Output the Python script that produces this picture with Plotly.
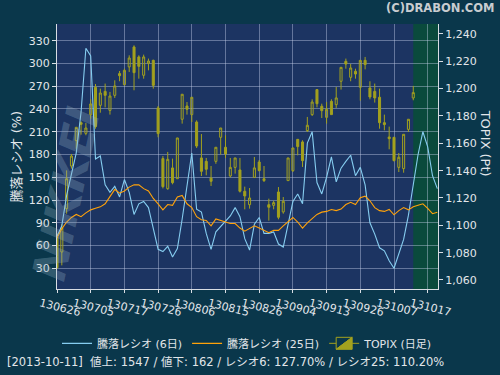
import plotly.graph_objects as go

# ---------------- data ----------------
tick_labels = ["130626", "130705", "130717", "130726", "130806", "130815",
               "130826", "130904", "130913", "130926", "131007", "131017"]

topix_open = [1091.5, 1080.5, 1112.2, 1143.4, 1162.0, 1175.1, 1167.3, 1181.0, 1201.0, 1187.8,
              1198.0, 1184.1, 1195.1, 1211.0, 1202.9, 1215.9, 1230.5, 1223.2, 1209.8, 1218.5,
              1220.7, 1185.9, 1148.8, 1126.8, 1142.0, 1134.1, 1177.6, 1187.3, 1181.0, 1175.6,
              1149.3, 1146.8, 1134.6, 1146.8, 1164.4, 1157.1, 1136.1, 1142.4, 1140.5, 1124.9,
              1115.1, 1135.1, 1146.3, 1134.1, 1115.1, 1114.6, 1124.4, 1109.8, 1132.7, 1140.0,
              1162.9, 1161.0, 1169.3, 1181.0, 1199.3, 1187.1, 1179.0, 1190.7, 1188.3, 1205.4,
              1220.0, 1208.3, 1212.7, 1201.0, 1220.7, 1200.5, 1198.0, 1193.7, 1175.1, 1164.6,
              1164.4, 1142.4, 1141.5, 1170.2, 1193.2]
topix_high = [1094.0, 1101.0, 1140.2, 1152.2, 1172.0, 1176.1, 1174.9, 1192.2, 1203.4, 1200.0,
              1203.7, 1197.6, 1206.1, 1212.9, 1214.6, 1224.4, 1231.7, 1224.4, 1224.9, 1222.0,
              1221.2, 1187.3, 1150.7, 1153.7, 1148.8, 1164.0, 1196.0, 1190.2, 1193.7, 1176.8,
              1166.8, 1149.3, 1143.4, 1157.1, 1171.2, 1165.9, 1149.3, 1149.3, 1149.3, 1128.3,
              1127.3, 1150.0, 1147.8, 1143.4, 1119.5, 1118.0, 1128.0, 1120.7, 1149.3, 1156.6,
              1163.0, 1162.2, 1179.3, 1192.2, 1199.3, 1189.0, 1190.2, 1192.2, 1201.2, 1215.6,
              1222.0, 1218.0, 1214.6, 1220.7, 1223.2, 1205.4, 1203.7, 1200.0, 1181.0, 1172.2,
              1164.6, 1152.9, 1166.6, 1177.6, 1202.0]
topix_low = [1068.0, 1070.7, 1108.5, 1141.5, 1156.0, 1166.3, 1165.9, 1178.0, 1170.7, 1182.4,
             1186.3, 1181.0, 1193.2, 1205.4, 1202.4, 1212.2, 1198.8, 1207.3, 1207.3, 1213.4,
             1200.0, 1164.4, 1127.0, 1126.0, 1130.0, 1134.0, 1174.4, 1181.0, 1175.6, 1156.6,
             1136.1, 1136.6, 1128.8, 1145.0, 1151.7, 1149.3, 1135.0, 1137.8, 1124.0, 1111.7,
             1112.2, 1134.6, 1139.5, 1131.7, 1103.4, 1111.7, 1104.4, 1108.5, 1132.7, 1139.0,
             1151.2, 1142.7, 1168.3, 1180.0, 1186.3, 1178.5, 1174.4, 1181.0, 1185.9, 1199.3,
             1214.6, 1205.4, 1207.3, 1191.2, 1214.1, 1192.2, 1189.8, 1170.7, 1169.5, 1155.6,
             1146.8, 1139.0, 1138.5, 1168.3, 1191.5]
topix_close = [1069.0, 1098.0, 1134.1, 1150.7, 1171.7, 1173.9, 1171.2, 1188.8, 1172.2, 1196.8,
               1195.1, 1194.6, 1202.0, 1209.5, 1213.4, 1222.4, 1211.7, 1216.3, 1223.2, 1220.2,
               1202.4, 1167.1, 1128.3, 1148.3, 1131.2, 1163.9, 1195.9, 1184.9, 1193.7, 1158.0,
               1139.5, 1141.0, 1132.2, 1157.1, 1171.2, 1152.2, 1142.4, 1149.3, 1124.9, 1121.5,
               1120.0, 1142.0, 1140.0, 1132.7, 1113.2, 1116.6, 1105.9, 1117.6, 1149.3, 1156.6,
               1157.6, 1147.3, 1173.2, 1190.2, 1189.0, 1183.9, 1184.9, 1181.0, 1193.2, 1215.6,
               1218.0, 1215.1, 1210.7, 1220.7, 1217.6, 1193.9, 1193.2, 1175.1, 1173.7, 1163.4,
               1147.3, 1149.8, 1166.6, 1177.6, 1197.1]

ratio6 = [72, 86, 126, 156, 182, 236, 320, 310, 174, 178,
          140, 130, 138, 124, 147, 130, 101, 115, 118, 110,
          82, 55, 52, 59, 45, 56, 95, 140, 182, 108,
          104, 76, 55, 78, 85, 92, 99, 110, 98, 69,
          54, 88, 97, 76, 76, 78, 62, 58, 88, 118,
          128, 115, 195, 210, 143, 128, 150, 177, 144, 162,
          171, 179, 152, 163, 140, 90, 75, 57, 53, 40,
          30, 50, 68, 100, 142, 180, 210, 190, 152, 135]
ratio25 = [70, 82, 91, 97, 101, 98, 103, 107, 109, 111,
           115, 125, 134, 129, 132, 137, 140, 140, 135, 132,
           122, 115, 107, 114, 113, 124, 126, 115, 110, 98,
           94, 93, 86, 95, 93, 91, 89, 89, 83, 79,
           83, 86, 83, 80, 77, 80, 80, 86, 91, 97,
           91, 83, 90, 95, 101, 104, 105, 107.5, 106, 108,
           114, 117, 114, 123, 125, 119, 110, 106, 105, 107.5,
           100.5, 106, 110, 107, 111, 113, 115, 109, 102, 104]

footer_date = "2013-10-11"
adv_count = 1547
dec_count = 162
ratio6_now = 127.70
ratio25_now = 110.20

# ---------------- figure ----------------
n_days = len(topix_open)
day_idx = list(range(n_days))
line_idx = list(range(len(ratio6)))
tick_idx = [7 * k for k in range(len(tick_labels))]

FONT = "DejaVu Sans, Noto Sans CJK JP, sans-serif"
TXT = "#e2e6ea"
OLIVE = "#a3a11e"

fig = go.Figure()

fig.add_trace(go.Scatter(
    x=line_idx, y=ratio6, mode="lines", name="騰落レシオ (6日)",
    line=dict(color="#86cdf0", width=1.1), yaxis="y2",
))
fig.add_trace(go.Scatter(
    x=line_idx, y=ratio25, mode="lines", name="騰落レシオ (25日)",
    line=dict(color="#ffa20a", width=1.1), yaxis="y2",
))
fig.add_trace(go.Candlestick(
    x=day_idx, open=topix_open, high=topix_high, low=topix_low, close=topix_close,
    name="TOPIX (日足)", yaxis="y", xaxis="x",
    increasing=dict(line=dict(color=OLIVE, width=1), fillcolor="rgba(0,0,0,0)"),
    decreasing=dict(line=dict(color=OLIVE, width=1), fillcolor=OLIVE),
    whiskerwidth=0, showlegend=True,
))

grid = "rgba(200,210,235,0.42)"

fig.update_layout(
    width=500, height=375,
    margin=dict(l=57, r=62, t=24, b=86),
    paper_bgcolor="#0a374b",
    plot_bgcolor="#1c3462",
    font=dict(family=FONT, size=11, color=TXT),
    boxgap=0.4,
    xaxis=dict(
        range=[0, 79.14], tickvals=tick_idx, ticktext=tick_labels,
        tickangle=14, ticklabelshift=-17, tickfont=dict(size=11, color=TXT),
        showgrid=True, gridcolor=grid, gridwidth=1,
        showline=True, linecolor="#d8dde3", linewidth=1,
        ticks="outside", ticklen=3, tickcolor="#d8dde3",
        rangeslider=dict(visible=False), zeroline=False,
    ),
    yaxis=dict(
        side="right", range=[1053.4, 1247.3],
        tickvals=list(range(1060, 1241, 20)), tickformat=",",
        showgrid=False, zeroline=False,
        showline=True, linecolor="#d8dde3", linewidth=1,
        ticks="outside", ticklen=4, tickcolor="#d8dde3",
        tickfont=dict(size=11, color=TXT),
    ),
    yaxis2=dict(
        side="left", overlaying="y", range=[2.7, 352],
        tickvals=list(range(30, 331, 30)),
        showgrid=True, gridcolor=grid, gridwidth=1, zeroline=False,
        showline=True, linecolor="#d8dde3", linewidth=1,
        ticks="outside", ticklen=4, tickcolor="#d8dde3",
        tickfont=dict(size=11, color=TXT),
    ),
    legend=dict(
        orientation="h", x=0.5, xanchor="center", y=-0.205, yanchor="middle",
        font=dict(size=11, color=TXT), bgcolor="rgba(0,0,0,0)",
        traceorder="normal", itemwidth=30,
    ),
    shapes=[dict(
        type="rect", xref="x", yref="paper", x0=n_days - 1, x1=79.14, y0=0, y1=1,
        fillcolor="#0a4a3c", line=dict(width=0), layer="below",
    )],
    annotations=[
        dict(text="<b><i>NIKKEI</i></b>", xref="paper", yref="paper", x=-0.1, y=0.36,
             showarrow=False, textangle=-78,
             font=dict(size=46, color="rgba(150,180,200,0.30)", family="DejaVu Sans"),
             ),
        dict(text="<b>(C)DRABON.COM</b>", xref="paper", yref="paper", x=1.152, y=1.06,
             xanchor="right", yanchor="middle", showarrow=False,
             font=dict(size=11.5, color="#c8ccd0", family="DejaVu Sans")),
        dict(text="騰落レシオ (%)", xref="paper", yref="paper", x=-0.105, y=0.5,
             xanchor="center", yanchor="middle", showarrow=False, textangle=-90,
             font=dict(size=13, color=TXT)),
        dict(text="TOPIX (Pt)", xref="paper", yref="paper", x=1.125, y=0.55,
             xanchor="center", yanchor="middle", showarrow=False, textangle=90,
             font=dict(size=13, color=TXT)),
        dict(text=f"[{footer_date}]  値上: {adv_count} / 値下: {dec_count} / "
                  f"レシオ6: {ratio6_now:.2f}% / レシオ25: {ratio25_now:.2f}%",
             xref="paper", yref="paper", x=-0.137, y=-0.275,
             xanchor="left", yanchor="middle", showarrow=False,
             font=dict(size=11.5, color=TXT)),
    ],
)

fig.write_html("out.html", config={"displayModeBar": False},
               post_script="document.body.style.margin='0';")
